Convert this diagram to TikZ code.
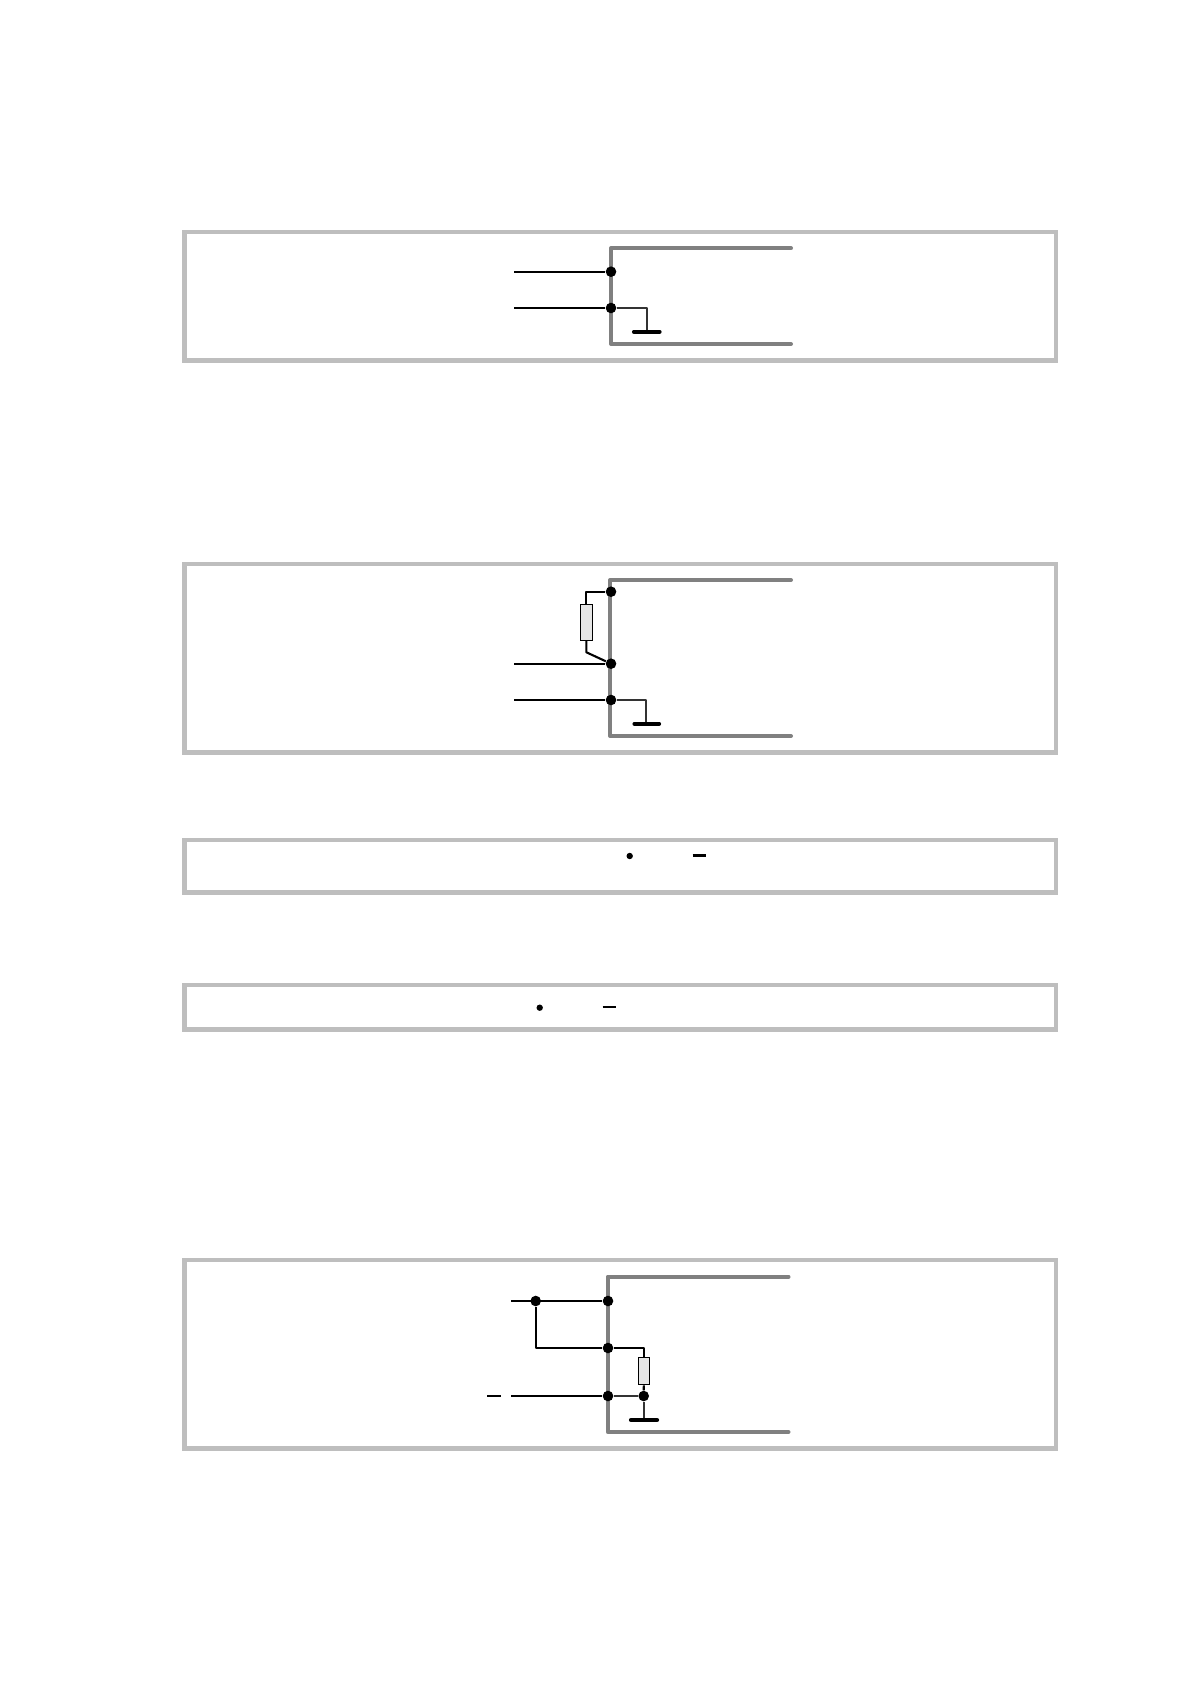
\documentclass[tikz,border=0pt]{standalone}
\definecolor{framegray}{RGB}{190,190,190}
\definecolor{busgray}{RGB}{128,128,128}
\definecolor{resfill}{RGB}{230,230,230}
\tikzset{
  px/.style={x=0.5pt,y=-0.5pt},
  panel/.style={draw=framegray,line width=2.4pt,line join=miter},
  bus/.style={draw=busgray,line width=2pt,line cap=round,line join=round},
  wire/.style={draw=black,line width=1.05pt,line join=round},
  thinwire/.style={draw=black!80,line width=0.9pt,line join=round},
  gnd/.style={draw=black,line width=2.1pt,line cap=round},
  junction/.style={circle,fill=black,inner sep=0pt,minimum size=5.3pt},
  smalldot/.style={circle,fill=black,inner sep=0pt,minimum size=3.2pt},
  mark dash/.style={draw=black,line width=1.25pt},
  resistor/.style={draw=black,fill=resfill,line width=0.55pt,inner sep=0pt,rectangle}
}
\begin{document}
\begin{tikzpicture}[px]
\useasboundingbox (0,0) rectangle (1190,1684);
% frames
\draw[panel] (184.5,232) rectangle (1056,360.4);
\draw[panel] (184.5,564) rectangle (1056,752.5);
\draw[panel] (184.5,840) rectangle (1056,892.3);
\draw[panel] (184.5,985) rectangle (1056,1029.5);
\draw[panel] (184.5,1260) rectangle (1056,1448.3);

% panel 1
\coordinate (a1) at (791,248.3);
\coordinate (a2) at (611,248.3);
\coordinate (a3) at (611,344);
\coordinate (a4) at (791,344);
\draw[bus] (a1) -- (a2) -- (a3) -- (a4);
\node[junction] (aj1) at (611,271.7) {};
\node[junction] (aj2) at (611,308) {};
\coordinate (al1) at (514,271.7);
\coordinate (al2) at (514,308);
\coordinate (ag) at (646.7,331.7);
\coordinate (agl) at (634,331.7);
\coordinate (agr) at (659.5,331.7);
\draw[wire] (al1) -- (aj1);
\draw[wire] (al2) -- (aj2);
\draw[thinwire] (aj2) -| (ag);
\draw[gnd] (agl) -- (agr);

% panel 2
\coordinate (b1) at (791,580);
\coordinate (b2) at (610,580);
\coordinate (b3) at (610,736);
\coordinate (b4) at (791,736);
\draw[bus] (b1) -- (b2) -- (b3) -- (b4);
\node[junction] (bj0) at (611,591.7) {};
\node[junction] (bj1) at (611,663.7) {};
\node[junction] (bj2) at (611,700) {};
\node[resistor,minimum width=6.1pt,minimum height=18pt] (br) at (586.4,622.3) {};
\coordinate (brk) at (586.4,652.3);
\coordinate (bl1) at (514,663.7);
\coordinate (bl2) at (514,700);
\coordinate (bg) at (646,723.7);
\coordinate (bgl) at (634.5,723.7);
\coordinate (bgr) at (659,723.7);
\draw[wire] (bj0) -| (br.north);
\draw[wire] (br.south) -- (brk) -- (bj1);
\draw[wire] (bl1) -- (bj1);
\draw[wire] (bl2) -- (bj2);
\draw[thinwire] (bj2) -| (bg);
\draw[gnd] (bgl) -- (bgr);

% panel 3
\node[smalldot] (cd) at (629.7,856) {};
\coordinate (cl) at (692.5,855.3);
\coordinate (cr) at (705.5,855.3);
\draw[mark dash,line width=1.4pt] (cl) -- (cr);

% panel 4
\node[smalldot] (dd) at (539.7,1007.7) {};
\coordinate (dl) at (602.7,1007);
\coordinate (dr) at (616,1007);
\draw[mark dash] (dl) -- (dr);

% panel 5
\coordinate (e1) at (788.5,1276.7);
\coordinate (e2) at (607.7,1276.7);
\coordinate (e3) at (607.7,1432);
\coordinate (e4) at (788.5,1432);
\draw[bus] (e1) -- (e2) -- (e3) -- (e4);
\node[junction] (ej1) at (608,1301) {};
\node[junction] (ej0) at (535.7,1301) {};
\node[junction] (ej2) at (608,1348) {};
\node[junction] (ej3) at (608,1396) {};
\node[junction] (ej4) at (643.7,1396) {};
\node[resistor,minimum width=5.5pt,minimum height=13.7pt] (er) at (643.8,1371) {};
\coordinate (el1) at (511,1301);
\coordinate (el3) at (511,1396);
\coordinate (eg) at (643.7,1420);
\coordinate (egl) at (631,1420);
\coordinate (egr) at (657,1420);
\coordinate (edl) at (487,1396);
\coordinate (edr) at (500.5,1396);
\draw[wire] (el1) -- (ej1);
\draw[wire] (ej0) |- (ej2);
\draw[wire] (ej2) -| (er.north);
\draw[wire] (er.south) -- (ej4);
\draw[wire] (el3) -- (ej3);
\draw[thinwire] (ej3) -- (ej4);
\draw[thinwire] (ej4) -- (eg);
\draw[gnd] (egl) -- (egr);
\draw[mark dash,line width=1pt] (edl) -- (edr);
\end{tikzpicture}
\end{document}
